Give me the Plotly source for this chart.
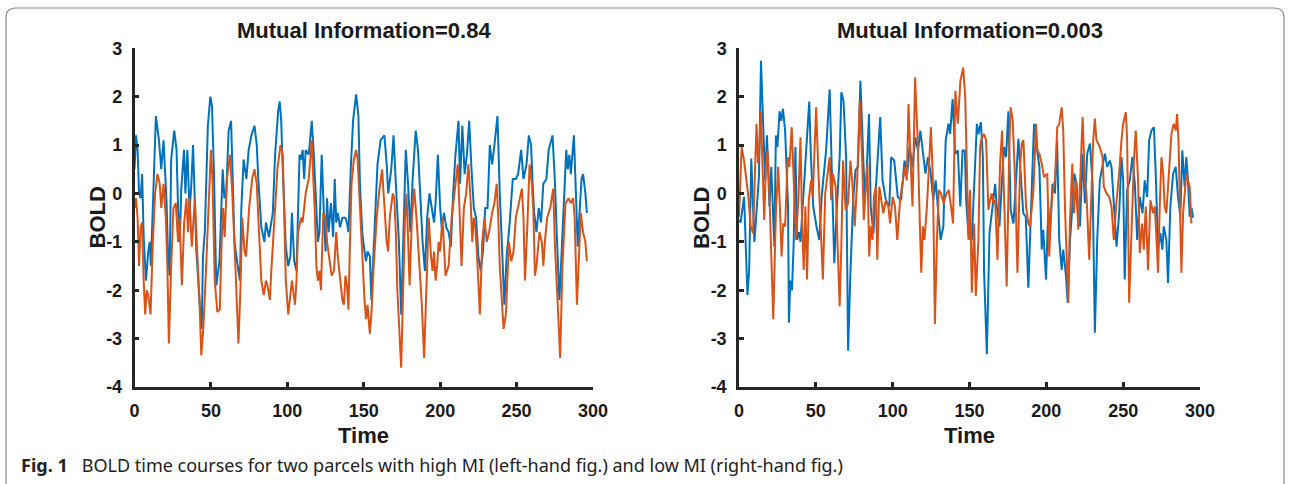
import plotly.graph_objects as go

# ---------------- data ----------------
left_blue_t = [0,1,2,3,4,5,6,7.5,9,10,10.7,12,14,16,17.5,19,20,21,22,23,24,26,27.5,28.5,29.6,30.6,32.4,33.3,34.6,36,37.2,38.3,39.4,40.5,42.7,44,44.8,46,48,49.6,50.7,52,53.5,55.6,57.7,58.8,60,61.6,63.2,64.3,65.4,68,69,69.9,71.4,73.2,74.7,76.5,78.5,80,81,83,85,86,88,89,90.5,92,94,95,96,97,98,99,100.6,102,103,104.5,106,107,108,109,110,111,112,114,116,117.5,119,120,121,122.5,124,125,126,127,128.5,130,131,132,133,134.5,136,138,139,140,141.5,143,145,146.5,147.5,149,150.5,151.5,152.5,154,155,156,157.5,159,161,163.5,165,166,168,169.5,171,172,173,174.5,176,177.5,179,180.5,182,184,185.5,187,188.5,190,191.5,193,194.5,196,197,198.5,200,201,202.5,204,205.5,207,208.5,210,212,213,214.5,216,217.5,219,220.5,222,223.5,225,226.5,228,229.5,231,232.5,234,235.5,237.5,239,240.5,242,243.5,245.5,247.5,249.5,251,253,254.5,256.5,258,259.5,260.5,261.5,263,264.5,266,267.5,269.5,271,273.5,275,276.5,278,279.5,281,282.5,283.5,284.5,285.5,287.5,288.5,290,291,292.5,293.5,295,296]
left_blue_v = [0.5,1.2,0.9,0.0,-0.1,0.4,-0.9,-1.8,-1.2,-1.0,-1.5,-0.3,1.6,1.1,0.5,1.1,0.4,-0.2,-1.3,-1.7,0.7,1.3,0.9,-0.3,-1.0,0.1,0.9,0.0,0.9,-0.4,0.2,1.0,-0.1,-1.2,-2.3,-2.8,-1.3,-0.8,1.4,2.0,1.8,0.4,-1.9,-1.4,0.5,-0.1,0.0,1.3,1.5,0.1,-1.0,-1.6,-1.8,-0.3,0.7,0.3,0.9,1.2,1.4,1.0,0.3,-0.7,-1.0,-0.6,-0.9,-0.7,-0.4,0.8,1.7,1.9,1.5,0.5,-0.3,-1.1,-1.5,-1.3,-0.4,-1.4,-1.6,-0.5,0.8,0.7,0.9,0.3,0.9,0.8,1.5,0.7,-0.5,-1.0,-0.8,0.8,-0.5,-1.2,-0.1,-0.8,-0.2,-0.9,0.3,-0.6,-0.4,-0.7,-0.5,-0.5,-0.6,-0.8,0.5,1.5,2.05,1.6,0.2,-0.8,-1.2,-1.4,-1.2,-1.3,-2.2,-1.5,-0.2,0.6,1.1,1.2,0.6,0.0,0.5,1.2,0.2,-0.4,-1.0,-2.5,-1.0,0.9,0.2,-0.8,0.3,1.3,0.9,-0.2,-1.0,-1.6,-0.5,0.0,-0.3,-0.6,-0.2,0.8,-0.3,-0.7,-0.4,-0.7,-0.8,-1.1,0.0,0.8,1.5,0.2,1.4,0.4,0.8,1.5,0.5,-0.3,-0.5,-1.3,-1.6,-1.2,-0.3,-0.3,1.0,0.6,1.0,1.6,0.0,-1.2,-2.3,-1.3,-0.6,0.3,0.3,0.4,0.9,0.3,0.6,1.2,1.0,0.2,-0.4,-0.8,-0.3,-0.6,0.2,0.3,0.9,1.2,0.3,-1.0,-2.2,-1.2,-0.2,0.9,0.5,0.8,0.4,1.2,0.3,-1.1,-0.5,0.3,0.4,0.0,-0.4]

left_orange_t = [0,1,2,3,4,5,6,7,8,9,10.5,12,13.5,15,16.5,17.5,19,20.5,21.5,22.5,24,25.5,27,28.5,29.5,31,32.5,34,35,36,37.5,38.5,39.5,41,42.5,43.7,45,46.5,48,50,51,52.5,54.2,55.8,57,58,59,60.5,62.5,64,66,68,69.3,70.5,72,73,75,77,78.5,80,81,82,83,84.6,86,87,88.6,89.5,90.5,92,93.5,95.5,97,98,99,100.6,102,103,105,106,107,109,110,112,114,116,117,118,119,120,121,122,123.5,125,126,127.5,129,130.5,132,133,134.5,136,137,138,139,140,141,142,143.5,145,146,147.5,149,150.5,151.5,152.5,154,155,156.5,158.5,160,162,163,164,165,166,167,169,170,171,172,174.5,176,177,178,179,180,181.5,183,184.5,186.5,188,189.5,191,192.5,194,195,196,197,198,199,200,201.5,203.5,205.5,207.5,209.5,211.5,212.5,214,215.5,217,218.5,220,221,222,223,224,226,227.5,229,230.5,232,234,235.5,237,238,239,241.5,243,245,246.5,248,249.5,251.5,253.5,254.5,255.5,257,258.5,260,261,262,263,265,266.5,267.5,268.5,270,272,274,275,276.5,278.5,280,282,284,285.5,287,288,289.5,291,292,293.5,295,296]
left_orange_v = [-0.3,-0.1,-0.5,-1.5,-0.7,-0.6,-1.8,-2.5,-2.0,-2.1,-2.5,-1.0,0.0,0.4,0.2,-0.3,0.2,-0.5,-1.5,-3.1,-1.5,-0.3,-0.2,-1.0,-0.5,-1.9,-0.6,-0.1,-0.8,-0.1,-1.1,-0.6,-0.1,-1.2,-2.2,-3.35,-2.8,-1.8,-0.5,0.9,0.3,-1.8,-2.45,-2.4,-1.0,-0.3,-0.9,0.3,0.8,0.0,-1.5,-3.1,-2.0,-0.5,-1.2,-1.3,-0.3,0.3,0.5,0.2,-0.5,-1.3,-1.8,-2.1,-1.8,-1.9,-2.2,-1.6,-1.0,-0.3,0.5,1.0,0.8,-0.3,-1.8,-2.5,-2.0,-1.8,-2.3,-1.8,-0.8,-0.5,-0.6,0.0,0.3,1.1,0.3,-0.4,-1.5,-1.8,-1.6,-2.0,-0.4,-0.5,-1.0,-1.4,-1.7,-1.6,-0.8,-1.3,-1.8,-2.2,-2.3,-1.7,-1.9,-2.4,-1.0,0.2,0.7,0.9,0.7,-0.3,-1.0,-2.2,-2.6,-2.3,-2.9,-2.5,-1.5,-0.5,0.0,0.5,0.0,-0.5,-1.0,-1.2,-0.5,0.0,-0.1,-0.8,-2.0,-3.6,-2.0,-0.5,0.0,-1.2,-1.9,-0.5,0.1,-0.5,-1.5,-2.3,-3.4,-1.8,-0.5,-1.3,-1.6,-1.2,-1.8,-1.5,-1.0,-1.2,-0.5,-1.7,-1.5,-0.5,0.0,0.6,-0.2,-1.5,-0.3,0.0,0.6,-0.2,-1.0,-0.5,-0.7,-1.2,-2.5,-1.0,-0.5,-1.0,-0.8,-0.4,-0.2,0.2,-0.5,-1.5,-2.8,-2.5,-1.0,-1.4,-1.2,-0.5,-0.2,0.1,-0.5,-1.8,-0.7,0.6,0.2,-0.4,-1.7,-1.5,-0.8,-1.0,-1.5,-1.0,-0.5,-0.3,0.1,-1.0,-2.0,-3.4,-1.5,-0.2,-0.1,-0.2,-0.1,-0.5,-2.3,-1.0,-0.4,-0.8,-1.0,-1.4]

right_blue_t = [0,1,3.3,5.5,6.6,8,10,12,13,14.3,15.8,17,18.2,19.8,21,22.4,23,24,25,26.4,27.5,28.6,30,31.9,32.5,33.4,34.5,35.6,36.7,37.8,39,40,41.8,44,45.7,46.8,48.3,50.5,52.3,53.8,56.7,59,60.4,62,63.7,65.5,66.6,68,69.7,71,72.5,74.3,75.8,77.4,79,80.4,81.8,83,84.6,85.7,87.5,89,91.9,93.4,95.6,97.8,99,101,103.3,105.5,107.7,109.5,111,113,114.7,116.5,118,119.8,121.3,123,124.8,126.4,128,129.7,131.2,133,134.5,136.3,137.4,139,140.7,142.4,144,145.5,147,147.8,149.4,151.5,153,154.8,155.8,157.4,158.7,159.5,161.3,163,164.5,165.6,166.7,167.7,169.5,171,172.5,173.8,175.3,176.8,178.6,180.3,181.8,183.3,185,186.6,188.3,189.8,192,193.7,195.5,197,198,199.8,201.3,202.4,204,205.6,207,208.4,210,211,212.8,213.9,215.4,216.5,218.2,219.7,220.8,221.9,223.6,225.1,226.6,228.4,230.1,231.6,233.1,234.8,236.6,238.1,239.6,241.3,242.4,243.9,245.7,247.4,248.9,250,251,252.6,254.3,256,257.6,259.1,260.8,262.6,264,265.6,266.9,268.4,270,271.2,272.7,274.2,275.5,276.4,278.1,279.2,280.7,282.5,284.2,285.7,287.2,288.5,290,291.1,292.2,293.3,294.5,295.5]
right_blue_v = [-0.55,-0.6,-0.07,-2.1,-1.6,0.72,-1.0,0.0,0.35,2.74,1.23,0.27,1.2,-0.27,0.55,-0.55,-1.1,1.2,0.96,1.7,1.5,1.75,1.3,-0.27,-2.67,-1.8,-2.0,-1.0,0.96,-0.96,-0.8,-1.0,-0.14,1.0,1.9,0.75,-0.27,-0.7,-0.96,-0.07,0.9,2.15,0.4,-1.44,-0.27,0.75,2.09,1.92,0.75,-3.25,-1.64,-0.14,0.48,0.55,2.33,1.03,-0.07,0.41,1.64,-0.27,-0.82,0.07,1.58,0.27,-0.14,-0.27,0.75,0.68,-0.07,-0.14,0.68,0.41,0.96,0.55,1.16,0.89,1.3,0.82,0.41,0.75,0.41,-0.14,0.27,-0.41,-0.96,-0.68,1.1,1.44,1.23,1.95,0.82,0.89,-0.27,0.89,0.89,-0.14,-0.89,-0.96,0.3,1.44,1.23,1.47,0.75,-1.64,-3.32,-0.82,-0.41,-0.07,0.2,-0.27,-0.68,0.2,0.96,0.75,1.7,-0.34,-0.62,0.27,1.13,0.41,-0.41,-0.48,-1.95,-0.55,1.44,0.96,0.55,-1.16,-0.75,-1.78,-0.27,-0.82,0.2,0.0,1.1,-0.96,-1.58,-1.16,-1.71,-2.26,-0.96,-0.48,0.41,0.2,-0.41,-0.68,0.82,-0.2,0.82,1.03,0.2,-2.88,-0.96,0.27,0.62,0.82,0.55,0.68,0.55,-0.27,-1.1,-0.41,0.75,0.27,-1.78,0.07,0.27,0.75,0.2,-0.96,-0.07,-0.41,0.27,-0.07,1.1,1.3,1.37,0.41,-1.16,-0.82,-1.16,-0.68,-0.96,-1.85,-0.27,0.41,0.55,-0.07,-0.48,0.89,0.14,0.75,0.27,-0.48,-0.3,-0.5]

right_orange_t = [0,1.7,3.3,4.8,6.1,7.6,9.2,10.5,11.4,12.4,13,14.2,15.3,16.4,17.5,18.6,19.7,20.7,22.3,24,25.5,26.6,27.7,28.8,30,31.7,32.8,34.3,35.6,37.1,38.6,40,41,42.1,43.2,44.3,45.4,46.9,48,50.2,51.7,53,54.6,56.1,57.2,59,60,61.1,62.9,64,65.5,66.6,67.7,69.4,71,72.5,73.8,75.3,76.9,78.6,80.1,81.2,82.5,83.6,84.7,85.8,86.9,87.8,89,90,91.3,92.8,93.9,95.6,97.2,98.3,100,101.5,103,104.8,106.6,108,109.2,110.3,111.4,112.9,114.6,116.2,117.5,118.6,119.7,120.7,122.3,123.4,124.9,126.2,127.5,128.8,130,131.4,133.2,135,136.5,138,139.3,140.8,142.4,144.1,145.9,147.2,148.7,149.4,150.4,151.5,153,154.1,155.8,156.9,158,159.5,160.8,162.3,163.4,164.5,165.6,166.7,168.2,169.9,171.2,172.5,174.2,176,176.8,178.1,179.7,181.2,182.9,184,185.1,186.8,188.3,189.4,191.6,193.3,194.2,195.5,197,198.5,200.6,201.9,202.8,204.1,205.6,207.1,208.4,210,211,212.1,213.2,214.3,215.4,216.9,218,219.3,220.8,222.3,223.6,225.1,226.2,227.9,229.4,230.5,231.6,232.6,233.8,234.8,236.6,237.4,239.2,240.9,242.4,243.9,245.7,247.4,248.9,250,251.7,252.6,253.9,255.4,257,258.2,259.7,260.8,262.3,263.4,264.7,266.2,267.7,269.5,270.6,271.6,272.7,273.8,274.9,276,277,278.1,279.9,281.4,282.9,284.2,285.1,286,286.8,287.9,289,290,291.1,292.2,293.3,294.4]
right_orange_v = [-0.48,0.96,0.68,0.27,-0.07,-0.68,-0.82,0.55,1.44,0.62,0.75,1.71,0.68,-0.55,0.55,0.89,0.07,-0.96,-2.6,-0.41,0.55,-0.27,-1.3,-0.62,-0.68,0.75,0.55,1.37,0.41,-0.96,-0.14,1.16,-0.55,-1.58,-0.27,-1.78,-0.14,0.27,-0.07,1.78,0.41,-0.68,-1.78,0.0,0.27,0.75,-0.14,0.41,0.14,-0.75,-2.33,-1.1,0.68,-0.34,-0.2,0.68,0.2,-0.68,0.27,1.92,0.75,-0.55,0.2,0.62,-1.3,-0.68,-0.96,-0.07,0.14,-1.37,0.14,-0.14,-0.41,-0.14,-0.27,-0.62,-0.07,-0.27,-0.96,-0.14,0.27,0.55,0.27,1.85,0.89,-0.27,2.4,1.16,-0.41,-1.64,-0.68,-0.96,-0.27,0.55,1.37,0.27,-2.7,-0.96,0.07,0.0,-0.2,0.0,0.07,-0.27,-0.62,2.12,1.44,2.33,2.6,2.0,0.07,-0.96,0.07,-2.05,-0.62,-2.12,-0.96,0.96,1.16,1.23,1.1,-0.34,-0.14,0.0,-0.2,-0.14,-1.37,0.62,1.3,-0.27,-1.92,1.1,1.78,1.51,0.27,-1.64,0.55,1.03,1.1,-0.27,-0.62,-0.68,0.07,1.44,0.89,0.82,0.62,0.34,0.41,-1.3,-0.55,0.07,0.27,1.37,1.44,1.78,1.3,-0.27,-1.23,-2.26,-0.55,0.62,-0.41,0.27,-0.75,0.55,1.58,0.27,-0.07,-1.37,0.27,1.1,1.55,1.1,1.03,0.96,0.75,0.14,0.0,-0.07,-0.27,-0.96,-0.14,0.41,1.1,1.44,1.68,1.1,-2.26,-0.82,0.68,1.3,0.27,-1.23,-0.62,-1.16,-0.27,-1.58,-0.14,-0.41,-0.27,-0.89,-1.64,-0.27,0.75,0.41,-0.27,-0.41,0.41,1.23,1.44,1.3,1.64,1.1,-0.07,-1.64,-0.41,0.0,0.41,0.27,0.14,-0.62]

x_ticks = [0, 50, 100, 150, 200, 250, 300]
y_ticks = [-4, -3, -2, -1, 0, 1, 2, 3]
titles = ["Mutual Information=0.84", "Mutual Information=0.003"]

BLUE = "#0072BD"
ORANGE = "#D95319"
AXC = "#262626"
W, H = 1290, 484
FONT = "Liberation Sans, Arial, Helvetica, sans-serif"

def px_x(p):
    return p / W

def px_y(p):
    return 1 - p / H

fig = go.Figure()
fig.add_trace(go.Scatter(x=left_blue_t, y=left_blue_v, mode="lines",
                         line=dict(color=BLUE, width=2), xaxis="x", yaxis="y", showlegend=False))
fig.add_trace(go.Scatter(x=left_orange_t, y=left_orange_v, mode="lines",
                         line=dict(color=ORANGE, width=2), xaxis="x", yaxis="y", showlegend=False))
fig.add_trace(go.Scatter(x=right_blue_t, y=right_blue_v, mode="lines",
                         line=dict(color=BLUE, width=2), xaxis="x2", yaxis="y2", showlegend=False))
fig.add_trace(go.Scatter(x=right_orange_t, y=right_orange_v, mode="lines",
                         line=dict(color=ORANGE, width=2), xaxis="x2", yaxis="y2", showlegend=False))

ydom = [px_y(387), px_y(48.3)]
dom_left = [px_x(134.5), px_x(593)]
dom_right = [px_x(739), px_x(1200)]

tickfont = dict(family=FONT, size=18, color="#1a1a1a", weight="bold")

def xaxis_cfg(dom, anchor):
    return dict(domain=dom, anchor=anchor, range=[0, 300], tickvals=x_ticks,
                ticktext=[str(v) for v in x_ticks], showgrid=False, zeroline=False,
                showline=True, linewidth=2.5, linecolor=AXC, mirror=False,
                ticks="inside", ticklen=5, tickwidth=2.5, tickcolor=AXC,
                tickfont=tickfont, ticklabelstandoff=6, fixedrange=True, automargin=False)

def yaxis_cfg(anchor):
    return dict(domain=ydom, anchor=anchor, range=[-4, 3], tickvals=y_ticks,
                ticktext=[str(v) for v in y_ticks], showgrid=False, zeroline=False,
                showline=True, linewidth=2.5, linecolor=AXC, mirror=False,
                ticks="inside", ticklen=5, tickwidth=2.5, tickcolor=AXC,
                tickfont=tickfont, ticklabelstandoff=6, fixedrange=True, automargin=False)

annotations = []
for dom, title in zip([dom_left, dom_right], titles):
    cx = (dom[0] + dom[1]) / 2
    annotations.append(dict(text=title, x=cx, y=px_y(30), xref="paper", yref="paper",
                            showarrow=False, xanchor="center", yanchor="middle",
                            font=dict(family=FONT, size=22, color="#1a1a1a", weight="bold")))
    annotations.append(dict(text="Time", x=cx, y=px_y(435), xref="paper", yref="paper",
                            showarrow=False, xanchor="center", yanchor="middle",
                            font=dict(family=FONT, size=22, color="#1a1a1a", weight="bold")))
    annotations.append(dict(text="BOLD", x=dom[0] - px_x(37), y=px_y(218), xref="paper", yref="paper",
                            showarrow=False, xanchor="center", yanchor="middle", textangle=-90,
                            font=dict(family=FONT, size=22, color="#1a1a1a", weight="bold")))

annotations.append(dict(
    text="<b>Fig. 1</b>&nbsp;&nbsp;&nbsp;BOLD time courses for two parcels with high MI (left-hand fig.) and low MI (right-hand fig.)",
    x=px_x(19), y=px_y(465), xref="paper", yref="paper", showarrow=False,
    xanchor="left", yanchor="middle",
    font=dict(family="Noto Sans, Open Sans, sans-serif", size=18, color="#222222")))

# rounded frame around the figure
r = 10
x0, x1, y0, y1 = 6, 1284, 8, 500
path = (f"M {px_x(x0)},{px_y(y1)} L {px_x(x0)},{px_y(y0 + r)} "
        f"Q {px_x(x0)},{px_y(y0)} {px_x(x0 + r)},{px_y(y0)} "
        f"L {px_x(x1 - r)},{px_y(y0)} Q {px_x(x1)},{px_y(y0)} {px_x(x1)},{px_y(y0 + r)} "
        f"L {px_x(x1)},{px_y(y1)}")

fig.update_layout(
    width=W, height=H,
    margin=dict(l=0, r=0, t=0, b=0, pad=0, autoexpand=False),
    paper_bgcolor="white", plot_bgcolor="white",
    xaxis=xaxis_cfg(dom_left, "y"),
    yaxis=yaxis_cfg("x"),
    xaxis2=xaxis_cfg(dom_right, "y2"),
    yaxis2=yaxis_cfg("x2"),
    annotations=annotations,
    shapes=[dict(type="path", path=path, xref="paper", yref="paper",
                 line=dict(color="#8a8a8a", width=1.2), layer="above")],
)

fig.write_html(
    "out.html",
    config={"displayModeBar": False},
    post_script="document.documentElement.style.margin='0';document.body.style.margin='0';"
                "document.body.style.overflow='hidden';document.documentElement.style.overflow='hidden';",
)
